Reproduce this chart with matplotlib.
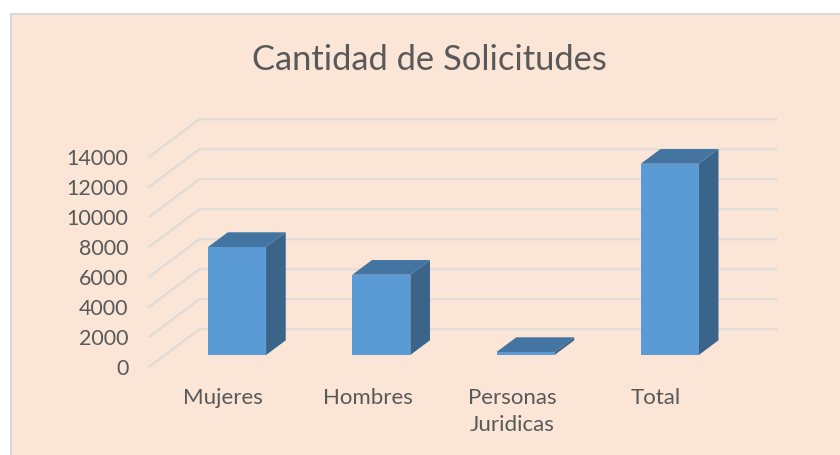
import matplotlib
matplotlib.use("Agg")
import matplotlib.pyplot as plt
from matplotlib.patches import Polygon, Rectangle
from matplotlib.transforms import ScaledTranslation

categories = ["Mujeres", "Hombres", "Personas\nJuridicas", "Total"]
values = [7200, 5350, 200, 12750]
y_ticks = [0, 2000, 4000, 6000, 8000, 10000, 12000, 14000]
title = "Cantidad de Solicitudes"

W, H = 840, 455
BG, BORDER = "#FBE5D6", "#D9D9D9"
FRONT, TOP, SIDE = "#5B9BD5", "#4474A1", "#3A648A"
GRID, TEXT = "#DEDBD9", "#595959"
FONT = "Lato"

fig = plt.figure(figsize=(W / 100, H / 100), dpi=100, facecolor="white")
fig.add_artist(Rectangle((11 / W, -0.01), 1.01 - 11 / W, 1.01 - 14 / H,
                         transform=fig.transFigure, facecolor=BG,
                         edgecolor=BORDER, linewidth=1.5, zorder=-1))

# axes = front plane of the 3D box, in pixels of the reference
L, R, T, B = 149.3, 726.3, 156.7, 366.7
ax = fig.add_axes([L / W, 1 - B / H, (R - L) / W, (B - T) / H])
ax.set_xlim(-0.5, 3.5)
ax.set_ylim(0, 14000)
ax.patch.set_visible(False)
for s in ax.spines.values():
    s.set_visible(False)

# depth 1 = whole floor depth, expressed in data units
unit_x = 50 / ((R - L) / 4)
unit_v = 37.4 / ((B - T) / 14000)


def proj(x, v, d):
    return (x + d * unit_x, v + d * unit_v)


for v in y_ticks:
    a, b, c = proj(-0.5, v, 0), proj(-0.5, v, 1), proj(3.5, v, 1)
    ax.plot([a[0], b[0], c[0]], [a[1], b[1], c[1]], color=GRID, lw=1.5,
            clip_on=False, zorder=1, solid_joinstyle="miter")

half = 29 / ((R - L) / 4)
d0, d1 = 0.313, 0.706
for i, v in enumerate(values):
    x0, x1 = i - half, i + half
    ax.add_patch(Polygon([proj(x1, 0, d0), proj(x1, 0, d1), proj(x1, v, d1), proj(x1, v, d0)],
                         facecolor=SIDE, edgecolor="none", clip_on=False, zorder=3))
    ax.add_patch(Polygon([proj(x0, v, d0), proj(x1, v, d0), proj(x1, v, d1), proj(x0, v, d1)],
                         facecolor=TOP, edgecolor="none", clip_on=False, zorder=3))
    ax.add_patch(Polygon([proj(x0, 0, d0), proj(x1, 0, d0), proj(x1, v, d0), proj(x0, v, d0)],
                         facecolor=FRONT, edgecolor="none", clip_on=False, zorder=4))

ax.set_yticks(y_ticks)
ax.set_yticklabels([str(v) for v in y_ticks], fontsize=15.4, color=TEXT, family=FONT)
ax.set_xticks(range(len(categories)))
ax.set_xticklabels(categories, fontsize=16, color=TEXT, family=FONT, linespacing=1.42)
ax.tick_params(axis="y", length=0, pad=15)
ax.tick_params(axis="x", length=0, pad=15.5)
shift = ScaledTranslation(2.0 / 100, 0, fig.dpi_scale_trans)
for lab in ax.get_xticklabels():
    lab.set_transform(lab.get_transform() + shift)

fig.text(429 / W, 1 - 60.5 / H, title, ha="center", va="center", fontsize=24.8,
         color=TEXT, family=FONT)

fig.savefig("out.png", dpi=100)
